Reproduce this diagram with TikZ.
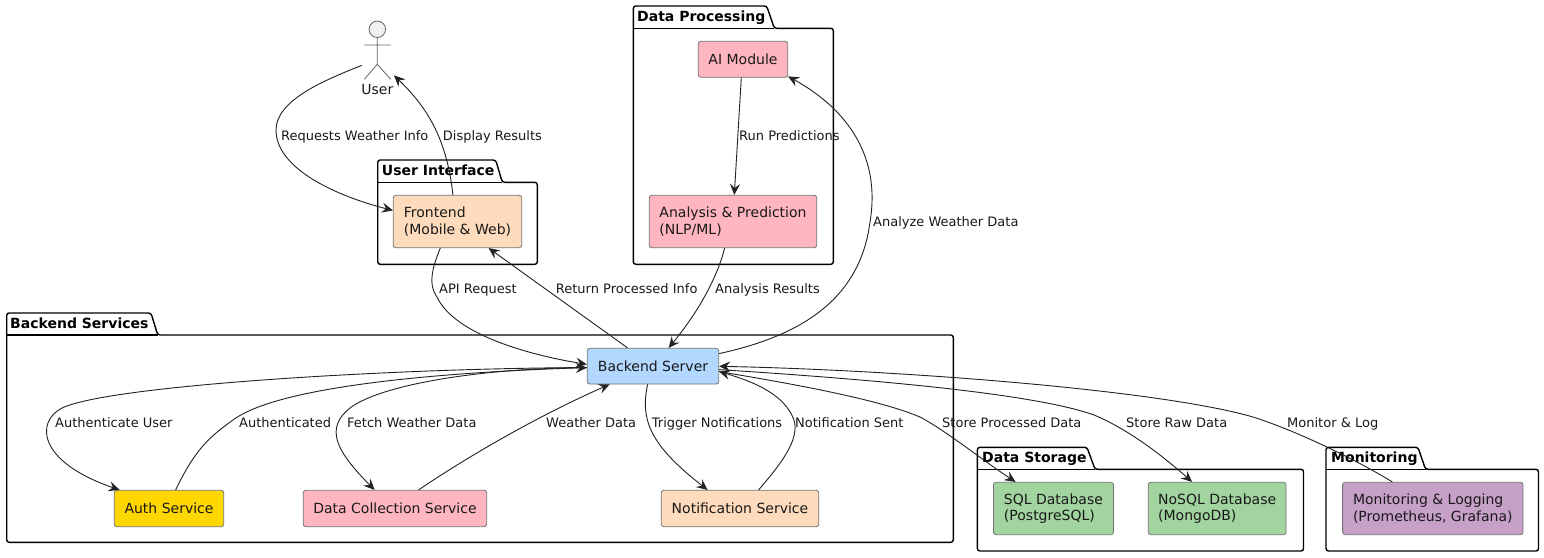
\documentclass[tikz,border=0pt]{standalone}
\usepackage{fontspec}
\setmainfont{DejaVu Sans}
\usetikzlibrary{arrows.meta}
\definecolor{peach}{HTML}{FFDBBD}
\definecolor{pinkbox}{HTML}{FFB6C1}
\definecolor{bluebox}{HTML}{B2D8FF}
\definecolor{goldbox}{HTML}{FFD700}
\definecolor{greenbox}{HTML}{A1D49F}
\definecolor{purplebox}{HTML}{C7A0C8}
\definecolor{edgecol}{HTML}{222222}
\tikzset{
  x=1pt,y=-1pt,
  pkgline/.style={draw=black,line width=1.4pt,fill=white,rounded corners=2.5pt},
  pkgrule/.style={draw=black,line width=1.1pt},
  pkgtitle/.style={anchor=base west,inner sep=0pt,font=\fontsize{14}{16}\selectfont\bfseries,text=black},
  box/.style={draw=black!55,line width=0.8pt,rounded corners=2.5pt,inner sep=0pt,align=left,
     font=\fontsize{14}{16.3}\selectfont,text=black!90},
  lbl/.style={anchor=base west,inner sep=0pt,font=\fontsize{13}{15}\selectfont,text=black!90},
  conn/.style={draw=edgecol,line width=0.9pt,-{Stealth[length=11pt,width=10pt,inset=4pt]}},
  actorline/.style={draw=black!60,line width=0.8pt}
}
\newcommand{\pkgshape}[8]{% x1 x2 tabtop bodytop bottom tabr1 tabr2 title; 
  \path[pkgline] (#1,#5) -- (#1,#3) -- (#6,#3) -- (#7,#4) -- (#2,#4) -- (#2,#5) -- cycle;
  \draw[pkgrule] (#1,#4) -- (#7,#4);
}
\newcommand{\boxnode}[7]{% name x1 y1 x2 y2 colour text
  \pgfmathsetmacro{\bxc}{(#2+#4)/2}\pgfmathsetmacro{\byc}{(#3+#5)/2}
  \pgfmathsetmacro{\bxw}{#4-#2}\pgfmathsetmacro{\byh}{#5-#3}
  \node[box,fill=#6,minimum width=\bxw pt,minimum height=\byh pt] (#1) at (\bxc,\byc) {#7};
}
\begin{document}
\begin{tikzpicture}
\useasboundingbox (0,0) rectangle (1544,557);
\fill[white] (0,0) rectangle (1544,557);
% packages
\pkgshape{377.7}{537.3}{160}{182.3}{264.3}{495.7}{502.3}{}
\node[pkgtitle] (tui) at (381.7,175) {User Interface};
\pkgshape{633.3}{833.3}{6}{28.3}{264.3}{766.7}{774.3}{}
\node[pkgtitle] (tdp) at (637,21) {Data Processing};
\pkgshape{6.7}{953.3}{313}{335}{542.3}{151}{157.7}{}
\node[pkgtitle] (tbs) at (10,328) {Backend Services};
\pkgshape{977.4}{1303.5}{447.3}{469.3}{551}{1087}{1095}{}
\node[pkgtitle] (tds) at (982,462) {Data Storage};
\pkgshape{1326}{1538.5}{447.3}{469.3}{551}{1418}{1425.5}{}
\node[pkgtitle] (tmo) at (1331,462) {Monitoring};
% actor
\node[circle,draw=black!60,fill=black!6,line width=0.8pt,minimum size=16.5pt,inner sep=0pt] (head) at (377.3,29.3) {};
\coordinate (hip) at (377.3,64.3);
\coordinate (armL) at (364.3,45);
\coordinate (armR) at (390.7,45);
\coordinate (legL) at (364.3,79.3);
\coordinate (legR) at (390.7,79.3);
\draw[actorline] (head.south) -- (hip) (armL) -- (armR) (legL) -- (hip) -- (legR);
\node[anchor=base,inner sep=0pt,font=\fontsize{14}{16}\selectfont,text=black!90] (user) at (377.3,94) {User};
% boxes
\boxnode{fe}{393.3}{195.3}{521.7}{247.7}{peach}{Frontend\\(Mobile \& Web)}
\boxnode{ai}{698.3}{41.3}{787.7}{77.3}{pinkbox}{AI Module}
\boxnode{an}{649.3}{195.3}{816.7}{247.7}{pinkbox}{Analysis \& Prediction\\(NLP/ML)}
\boxnode{be}{587.3}{348.3}{718.7}{384}{bluebox}{Backend Server}
\boxnode{au}{114.3}{490.3}{223.7}{526.7}{goldbox}{Auth Service}
\boxnode{dc}{303.3}{490.3}{486.7}{526.7}{pinkbox}{Data Collection Service}
\boxnode{no}{661.3}{490.3}{818.7}{526.7}{peach}{Notification Service}
\boxnode{sq}{993.4}{482.3}{1113.5}{534.7}{greenbox}{SQL Database\\(PostgreSQL)}
\boxnode{ns}{1148.3}{482.3}{1286}{534.7}{greenbox}{NoSQL Database\\(MongoDB)}
\boxnode{mo}{1342.6}{482.3}{1523}{534.7}{purplebox}{Monitoring \& Logging\\(Prometheus, Grafana)}
% connectors
\draw[conn] ([xshift=-15.6,yshift=18.2]user.north) .. controls (325,80) and (276,100) .. (276,130)
   .. controls (276,170) and (340,197) .. ([yshift=-15.5]fe.north west);
\draw[conn] ([xshift=60]fe.north west) .. controls (447,140) and (428,108) .. ([xshift=16.7,yshift=8.2]user.north);
\draw[conn] ([xshift=47.4]fe.south west) .. controls (432,268) and (428,285) .. (437,297)
   .. controls (455,335) and (530,355) .. ([yshift=-16.5]be.north west);
\draw[conn] ([xshift=40.7]be.north west) -- ([xshift=95.7]fe.south west);
\draw[conn] ([xshift=75.7]an.south west) .. controls (718,275) and (700,310) .. ([xshift=81.7]be.north west);
\draw[conn] ([yshift=-5.7]be.north east) .. controls (800,336) and (860,300) .. (870,222)
   .. controls (882,150) and (840,105) .. ([yshift=1.3]ai.south east);
\draw[conn] ([xshift=43.4]ai.south west) -- ([xshift=85.4]an.north west);
\draw[conn] ([yshift=-19.7]be.north west) .. controls (400,368) and (110,385) .. (62,408)
   .. controls (35,422) and (38,462) .. ([xshift=5.7]au.north west);
\draw[conn] ([xshift=61.7]au.north west) .. controls (195,450) and (208,438) .. (233,420)
   .. controls (280,385) and (450,372) .. ([yshift=-19.7]be.north west);
\draw[conn] ([yshift=-19.7]be.north west) .. controls (480,368) and (380,385) .. (350,408)
   .. controls (325,428) and (335,450) .. ([xshift=71.7]dc.north west);
\draw[conn] ([xshift=115.7]dc.north west) .. controls (470,455) and (540,415) .. ([xshift=22.7]be.south west);
\draw[conn] ([xshift=60.7]be.south west) .. controls (640,420) and (650,445) .. ([xshift=46.7]no.north west);
\draw[conn] ([xshift=97.7]no.north west) .. controls (780,465) and (800,440) .. (794,420)
   .. controls (785,395) and (755,382) .. ([yshift=-23.7]be.north east);
\draw[conn] ([yshift=-23.7]be.north east) .. controls (800,385) and (880,400) .. (920,417)
   .. controls (945,430) and (985,462) .. ([xshift=22.6]sq.north west);
\draw[conn] ([yshift=-21.7]be.north east) .. controls (850,378) and (1030,392) .. (1094,415)
   .. controls (1130,430) and (1165,458) .. ([xshift=44.2]ns.north west);
\draw[conn] ([xshift=50.1]mo.north west) .. controls (1360,462) and (1300,432) .. (1253,417)
   .. controls (1160,390) and (900,370) .. ([yshift=-18.4]be.north east);
% labels
\node[lbl] (l1) at (281,140.5) {Requests Weather Info};
\node[lbl] (l2) at (442.7,140.5) {Display Results};
\node[lbl] (l3) at (439,293) {API Request};
\node[lbl] (l4) at (555.7,293) {Return Processed Info};
\node[lbl] (l5) at (715,293) {Analysis Results};
\node[lbl] (l6) at (739,140.5) {Run Predictions};
\node[lbl] (l7) at (873,226.5) {Analyze Weather Data};
\node[lbl] (l8) at (55,427.5) {Authenticate User};
\node[lbl] (l9) at (239,427.5) {Authenticated};
\node[lbl] (l10) at (347,427.5) {Fetch Weather Data};
\node[lbl] (l11) at (546,427.5) {Weather Data};
\node[lbl] (l12) at (651.7,427.5) {Trigger Notifications};
\node[lbl] (l13) at (795,427.5) {Notification Sent};
\node[lbl] (l14) at (942,427.5) {Store Processed Data};
\node[lbl] (l15) at (1126,427.5) {Store Raw Data};
\node[lbl] (l16) at (1287,427.5) {Monitor \& Log};
\end{tikzpicture}
\end{document}
